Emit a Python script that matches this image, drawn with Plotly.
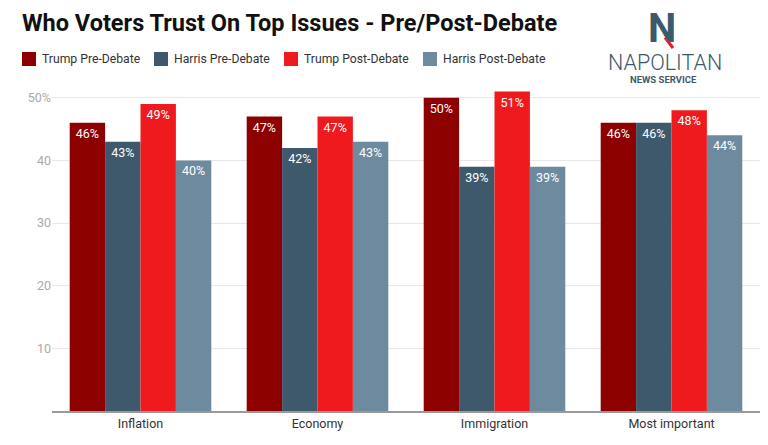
import plotly.graph_objects as go

categories = ["Inflation", "Economy", "Immigration", "Most important"]
series_names = ["Trump Pre-Debate", "Harris Pre-Debate", "Trump Post-Debate", "Harris Post-Debate"]
trump_pre = [46, 47, 50, 46]
harris_pre = [43, 42, 39, 46]
trump_post = [49, 47, 51, 48]
harris_post = [40, 43, 39, 44]
colors = ["#8c0000", "#3e596b", "#ee1a1d", "#6d8a9f"]
ytick_vals = [10, 20, 30, 40, 50]
ytick_text = ["10", "20", "30", "40", "50%"]

W, H = 768, 445
ML, MR, MT, MB = 52, 8, 84, 34
PW, PH = W - ML - MR, H - MT - MB

def px(x):
    return (x - ML) / PW

def py(y):
    return (H - MB - y) / PH

fig = go.Figure()
for name, vals, col in zip(series_names, [trump_pre, harris_pre, trump_post, harris_post], colors):
    fig.add_trace(go.Bar(
        x=categories, y=vals, name=name, marker_color=col,
        marker_line_width=0,
        text=[f"{v}%" for v in vals], textposition="inside", insidetextanchor="end",
        textfont=dict(color="white", size=12.5, family="Roboto"),
        showlegend=False,
    ))

fig.update_layout(
    width=W, height=H,
    margin=dict(l=ML, r=MR, t=MT, b=MB),
    paper_bgcolor="white", plot_bgcolor="white",
    barmode="group", bargap=0.2, bargroupgap=0,
    font=dict(family="Roboto", color="#333"),
    title=dict(text="<b>Who Voters Trust On Top Issues - Pre/Post-Debate</b>",
               x=22 / W, xanchor="left", y=1 - 23 / H, yanchor="middle",
               font=dict(size=23.5, color="#111", family="Roboto")),
    uniformtext=dict(minsize=8, mode="show"),
)
fig.update_yaxes(range=[0, 52.2], tickvals=ytick_vals, ticktext=ytick_text,
                 showgrid=True, gridcolor="#e8e8e8", gridwidth=1, zeroline=False,
                 tickfont=dict(size=12.5, color="#aaaaaa"), ticks="", showline=False)
fig.update_xaxes(showline=True, linecolor="#999", linewidth=1.5, ticks="",
                 tickfont=dict(size=12.5, color="#333"))

# manual legend
leg_sq_x = [22, 154, 284, 423]
for name, col, sx in zip(series_names, colors, leg_sq_x):
    fig.add_shape(type="rect", xref="paper", yref="paper",
                  x0=px(sx), x1=px(sx + 14), y0=py(66), y1=py(52),
                  fillcolor=col, line_width=0)
    fig.add_annotation(text=name, xref="paper", yref="paper", x=px(sx + 18), y=py(59),
                       xanchor="left", yanchor="middle", showarrow=False,
                       font=dict(size=12.2, color="#333", family="Roboto"))

# logo
fig.add_annotation(text="<b>N</b>", xref="paper", yref="paper", x=px(662), y=py(28),
                   xanchor="center", yanchor="middle", showarrow=False,
                   font=dict(size=40, color="#3e596b", family="Roboto"))
fig.add_shape(type="line", xref="paper", yref="paper",
              x0=px(660), y0=py(31), x1=px(673), y1=py(48),
              line=dict(color="white", width=3))
fig.add_shape(type="line", xref="paper", yref="paper",
              x0=px(665), y0=py(37.5), x1=px(673), y1=py(48),
              line=dict(color="#ee1a1d", width=3))
fig.add_annotation(text="NAPOLITAN", xref="paper", yref="paper", x=px(665), y=py(63),
                   xanchor="center", yanchor="middle", showarrow=False,
                   font=dict(size=21.5, color="#3e596b", family="Roboto", weight=300))
fig.add_annotation(text="<b>NEWS SERVICE</b>", xref="paper", yref="paper", x=px(663), y=py(80),
                   xanchor="center", yanchor="middle", showarrow=False,
                   font=dict(size=9.5, color="#3e596b", family="Roboto"))

fig.write_html("out.html", config={"displayModeBar": False},
               post_script="document.body.style.margin='0';")
